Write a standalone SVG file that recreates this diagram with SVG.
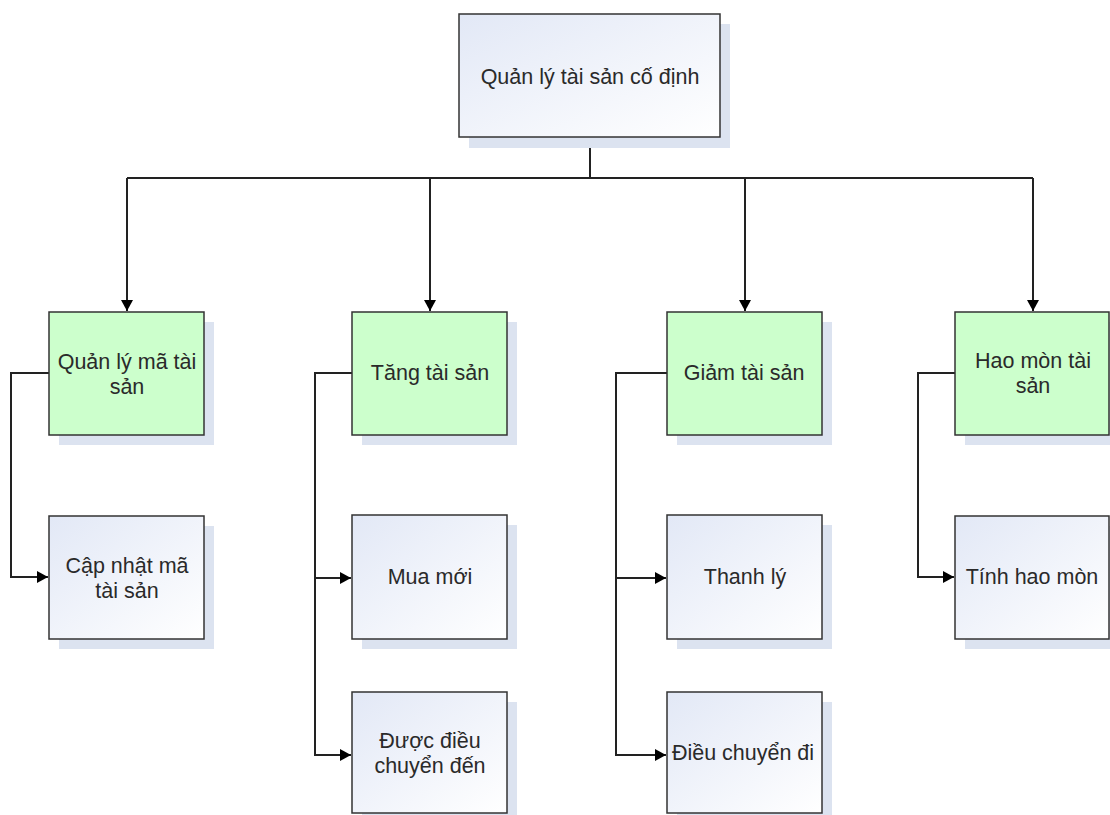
<svg xmlns="http://www.w3.org/2000/svg" width="1110" height="815" viewBox="0 0 1110 815">
<style>
.box{stroke:#333;stroke-width:1.5}
.green{fill:#ccffcc}
.grad{fill:url(#g)}
.sh{fill:#dce3f0}
.t{font-family:"Liberation Sans",Arial,sans-serif;font-size:21.5px;fill:#2a2a2a;text-anchor:middle}
.c{fill:none;stroke:#222;stroke-width:2}
</style>
<defs>
<linearGradient id="g" x1="0" y1="0" x2="1" y2="1">
<stop offset="0" stop-color="#e2e8f6"/>
<stop offset="1" stop-color="#ffffff"/>
</linearGradient>
<marker id="a" markerUnits="userSpaceOnUse" markerWidth="12" markerHeight="12" refX="11" refY="6" orient="auto">
<path d="M0,0 L11,6 L0,12 Z" fill="#000"/>
</marker>
</defs>
<rect width="1110" height="815" fill="#fff"/>
<g id="connectors">
<path class="c" d="M590,137 V178"/>
<path class="c" d="M127,178 H1033"/>
<path class="c" d="M127,178 V311" marker-end="url(#a)"/>
<path class="c" d="M430,178 V311" marker-end="url(#a)"/>
<path class="c" d="M745,178 V311" marker-end="url(#a)"/>
<path class="c" d="M1033,178 V311" marker-end="url(#a)"/>
<path class="c" d="M49,373 H11 V577 H48" marker-end="url(#a)"/>
<path class="c" d="M352,373 H315 V755 H351" marker-end="url(#a)"/>
<path class="c" d="M315,578 H351" marker-end="url(#a)"/>
<path class="c" d="M667,373 H616 V755 H666" marker-end="url(#a)"/>
<path class="c" d="M616,578 H666" marker-end="url(#a)"/>
<path class="c" d="M955,373 H918 V577 H954" marker-end="url(#a)"/>
</g>
<g id="root">
<rect class="sh" x="469" y="24" width="261" height="124"/>
<rect class="box grad" x="459" y="14" width="261" height="123"/>
<text class="t" x="590" y="84">Quản lý tài sản cố định</text>
</g>
<g id="n1">
<rect class="sh" x="59" y="322" width="155" height="123"/>
<rect class="box green" x="49" y="312" width="155" height="123"/>
<text class="t" x="127" y="369">Quản lý mã tài</text>
<text class="t" x="127" y="394">sản</text>
</g>
<g id="n2">
<rect class="sh" x="362" y="322" width="155" height="123"/>
<rect class="box green" x="352" y="312" width="155" height="123"/>
<text class="t" x="430" y="380">Tăng tài sản</text>
</g>
<g id="n3">
<rect class="sh" x="677" y="322" width="155" height="123"/>
<rect class="box green" x="667" y="312" width="155" height="123"/>
<text class="t" x="744" y="380">Giảm tài sản</text>
</g>
<g id="n4">
<rect class="sh" x="965" y="322" width="155" height="123"/>
<rect class="box green" x="955" y="312" width="154" height="123"/>
<text class="t" x="1033" y="368">Hao mòn tài</text>
<text class="t" x="1033" y="393">sản</text>
</g>
<g id="n11">
<rect class="sh" x="59" y="526" width="155" height="123"/>
<rect class="box grad" x="49" y="516" width="155" height="123"/>
<text class="t" x="127" y="573">Cập nhật mã</text>
<text class="t" x="127" y="598">tài sản</text>
</g>
<g id="n21">
<rect class="sh" x="362" y="525" width="155" height="124"/>
<rect class="box grad" x="352" y="515" width="155" height="124"/>
<text class="t" x="430" y="584">Mua mới</text>
</g>
<g id="n22">
<rect class="sh" x="362" y="702" width="155" height="121"/>
<rect class="box grad" x="352" y="692" width="155" height="121"/>
<text class="t" x="430" y="748">Được điều</text>
<text class="t" x="430" y="773">chuyển đến</text>
</g>
<g id="n31">
<rect class="sh" x="677" y="525" width="155" height="124"/>
<rect class="box grad" x="667" y="515" width="155" height="124"/>
<text class="t" x="745" y="584">Thanh lý</text>
</g>
<g id="n32">
<rect class="sh" x="677" y="702" width="155" height="121"/>
<rect class="box grad" x="667" y="692" width="155" height="121"/>
<text class="t" x="743" y="760">Điều chuyển đi</text>
</g>
<g id="n41">
<rect class="sh" x="965" y="526" width="155" height="123"/>
<rect class="box grad" x="955" y="516" width="154" height="123"/>
<text class="t" x="1032" y="584">Tính hao mòn</text>
</g>
</svg>
